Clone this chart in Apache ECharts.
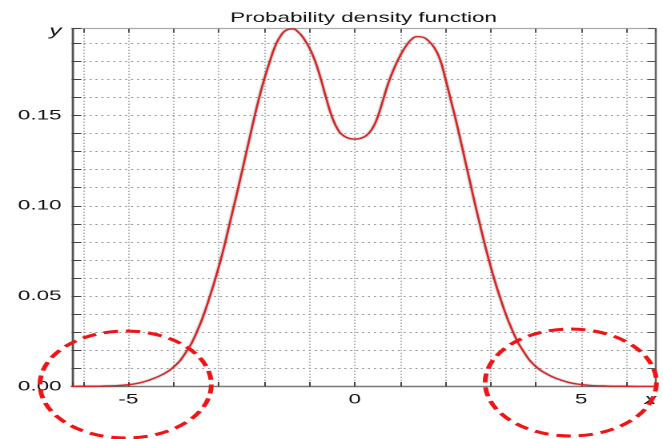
<!DOCTYPE html>
<html>
<head>
<meta charset="utf-8">
<script src="https://cdn.jsdelivr.net/npm/echarts@6/dist/echarts.min.js"></script>
<style>
  html, body { margin: 0; padding: 0; background: #fff; overflow: hidden; }
  #stage { width: 663px; height: 439px; overflow: hidden; }
  /* the plot is laid out in a narrow box and widened to the full page width */
  #chart { width: 414px; height: 439px; transform: scaleX(1.60145); transform-origin: 0 0; }
</style>
</head>
<body>
<div id="stage"><div id="chart"></div></div>
<script>
const titleText = 'Probability density function';
const xAxisName = 'x';
const yAxisName = 'y';

// abscissa samples and the estimated density at each of them
const xValues = [
  -6.25, -6.0, -5.75, -5.5, -5.25, -5.0, -4.75, -4.5, -4.25, -4.0,
  -3.75, -3.5, -3.25, -3.0, -2.75, -2.5,
  -2.25, -2.125, -2.0, -1.875, -1.75, -1.625, -1.5, -1.375, -1.25, -1.125,
  -1.0, -0.875, -0.75, -0.625, -0.5, -0.375, -0.25, -0.125, 0,
  0.125, 0.25, 0.375, 0.5, 0.625, 0.75, 0.875, 1.0, 1.125, 1.25,
  1.375, 1.5, 1.625, 1.75, 1.875, 2.0, 2.125, 2.25,
  2.5, 2.75, 3.0, 3.25, 3.5, 3.75, 4.0, 4.25, 4.5, 4.75,
  5.0, 5.25, 5.5, 5.75, 6.0, 6.25, 6.5, 6.65
];
const densityValues = [
  0.0000, 0.0001, 0.0001, 0.0003, 0.0005, 0.0010, 0.0020, 0.0039, 0.0066, 0.0108,
  0.0182, 0.0295, 0.0460, 0.0665, 0.0915, 0.1180,
  0.1455, 0.1585, 0.1700, 0.1800, 0.1888, 0.1945, 0.1974, 0.1979, 0.1962, 0.1925,
  0.1873, 0.1800, 0.1702, 0.1590, 0.1490, 0.1422, 0.1388, 0.1373, 0.1369,
  0.1373, 0.1388, 0.1422, 0.1488, 0.1586, 0.1686, 0.1765, 0.1830, 0.1882, 0.1920,
  0.1936, 0.1933, 0.1913, 0.1877, 0.1815, 0.1703, 0.1580, 0.1455,
  0.1180, 0.0910, 0.0665, 0.0460, 0.0298, 0.0185, 0.0110, 0.0068, 0.0040, 0.0021,
  0.0011, 0.0005, 0.0003, 0.0001, 0.0001, 0.0000, 0.0000, 0.0000
];

// axis extents and the values that carry a tick label
const xMin = -6.25, xMax = 6.65;
const yMin = 0, yMax = 0.198;
const xLabelValues = [-5, 0, 5];
const yLabelValues = [0.00, 0.05, 0.10, 0.15];

// centres (data coordinates) of the two dashed rings marking the tails
const tailCentres = [[-5.06, 0.0011], [4.77, 0.0022]];

const FONT = '"Liberation Sans", Arial, Helvetica, sans-serif';
const near = (a, b) => Math.abs(a - b) < 1e-9;

const chart = echarts.init(document.getElementById('chart'), null, { renderer: 'canvas', devicePixelRatio: 2 });

chart.setOption({
  animation: false,
  backgroundColor: '#ffffff',
  title: {
    text: titleText,
    left: 222,
    top: 6,
    textAlign: 'center',
    textStyle: { fontFamily: FONT, fontSize: 14, fontWeight: 'normal', color: '#111' }
  },
  grid: { left: 44.8, right: 4.4, top: 28.7, bottom: 52.5, containLabel: false },
  xAxis: [
    {
      type: 'value', min: xMin, max: xMax, splitNumber: 13,
      axisLine: { show: true, onZero: false, lineStyle: { color: '#777', width: 1.4 } },
      axisTick: { show: true, inside: true, length: 4.5, lineStyle: { color: '#444', width: 1 } },
      splitLine: { show: true, lineStyle: { color: '#9a9a9a', width: 1, type: [1, 2] } },
      axisLabel: {
        show: true, margin: 6, color: '#111', fontFamily: FONT, fontSize: 14,
        showMinLabel: true, showMaxLabel: true,
        formatter: v => {
          if (near(v, xMax)) return '{nm|' + xAxisName + '}';
          const hit = xLabelValues.find(t => near(t, v));
          return hit === undefined ? '' : String(hit);
        },
        rich: { nm: { fontFamily: FONT, fontStyle: 'italic', fontSize: 15, color: '#111', padding: [0, 7, 0, 0] } }
      }
    },
    {
      type: 'value', position: 'top', min: xMin, max: xMax, splitNumber: 13,
      axisLine: { show: true, onZero: false, lineStyle: { color: '#aaa', width: 1.2 } },
      axisTick: { show: true, inside: true, length: 4, lineStyle: { color: '#555', width: 1 } },
      splitLine: { show: false },
      axisLabel: { show: false }
    }
  ],
  yAxis: [
    {
      type: 'value', min: yMin, max: yMax, interval: 0.01,
      axisLine: { show: true, onZero: false, lineStyle: { color: '#555', width: 1.4 } },
      axisTick: { show: true, inside: true, length: 6, lineStyle: { color: '#444', width: 1 } },
      splitLine: { show: true, lineStyle: { color: '#9a9a9a', width: 1, type: [1.3, 2.4] } },
      axisLabel: {
        show: true, margin: 6.4, color: '#111', fontFamily: FONT, fontSize: 14,
        showMinLabel: true, showMaxLabel: true,
        formatter: v => {
          if (near(v, yMax)) return '{nm|' + yAxisName + '}';
          const hit = yLabelValues.find(t => near(t, v));
          return hit === undefined ? '' : hit.toFixed(2);
        },
        rich: { nm: { fontFamily: FONT, fontStyle: 'italic', fontSize: 15, color: '#111', padding: [5, 0, 0, 0] } }
      }
    },
    {
      type: 'value', position: 'right', min: yMin, max: yMax, interval: 0.01,
      axisLine: { show: true, onZero: false, lineStyle: { color: '#666', width: 1.3 } },
      axisTick: { show: true, inside: true, length: 5, lineStyle: { color: '#555', width: 1 } },
      splitLine: { show: false },
      axisLabel: { show: false }
    }
  ],
  series: [
    {
      name: 'density',
      type: 'line',
      xAxisIndex: 0,
      yAxisIndex: 0,
      data: xValues.map((x, i) => [x, densityValues[i]]),
      showSymbol: false,
      smooth: 0.5,
      clip: true,
      lineStyle: {
        color: '#dc2222', width: 1.3,
        shadowColor: 'rgba(40,40,40,0.55)', shadowBlur: 1.5
      },
      z: 5
    }
  ]
});

// dashed rings around the two tails, placed through the axis scales
const ringCentres = tailCentres.map(p => chart.convertToPixel({ xAxisIndex: 0, yAxisIndex: 0 }, p));
chart.setOption({
  graphic: ringCentres.map(c => ({
    type: 'circle',
    silent: true,
    z: 100,
    shape: { cx: c[0], cy: c[1], r: 53.5 },
    style: { fill: 'none', stroke: '#f21414', lineWidth: 3, lineDash: [9, 5] }
  }))
});
</script>
</body>
</html>
